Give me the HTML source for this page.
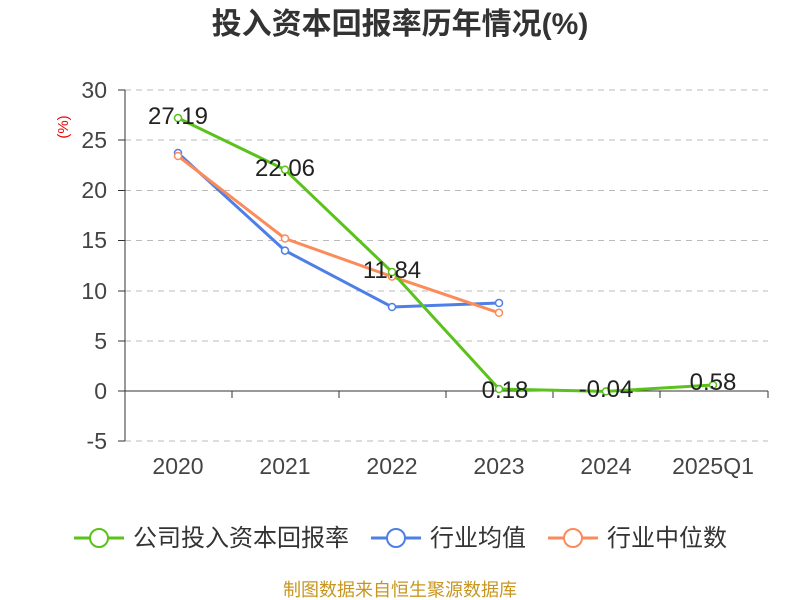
<!DOCTYPE html>
<html><head><meta charset="utf-8"><style>body{margin:0;background:#fff}svg{display:block}</style></head><body>
<svg width="800" height="600" xmlns="http://www.w3.org/2000/svg" font-family="Liberation Sans, Noto Sans CJK SC, sans-serif">
<text x="400" y="34" text-anchor="middle" font-size="30" font-weight="bold" fill="#333">投入资本回报率历年情况(%)</text>
<text x="68" y="127" font-size="15" fill="#e00" transform="rotate(-90 68 127)" text-anchor="middle">(%)</text>
<g stroke="#bbb" stroke-dasharray="6,5" stroke-width="1">
<line x1="125" x2="768" y1="90" y2="90"/><line x1="125" x2="768" y1="140" y2="140"/><line x1="125" x2="768" y1="190.5" y2="190.5"/><line x1="125" x2="768" y1="240.5" y2="240.5"/><line x1="125" x2="768" y1="291" y2="291"/><line x1="125" x2="768" y1="341" y2="341"/><line x1="125" x2="768" y1="441" y2="441"/>
</g>
<g stroke="#333" stroke-width="1">
<line x1="125" x2="125" y1="90" y2="441"/>
<line x1="118" x2="125" y1="90" y2="90"/><line x1="118" x2="125" y1="140" y2="140"/><line x1="118" x2="125" y1="190.5" y2="190.5"/><line x1="118" x2="125" y1="240.5" y2="240.5"/><line x1="118" x2="125" y1="291" y2="291"/><line x1="118" x2="125" y1="341" y2="341"/><line x1="118" x2="125" y1="391" y2="391"/><line x1="118" x2="125" y1="441" y2="441"/>
<line x1="125" x2="768" y1="391" y2="391"/>
<line x1="232" x2="232" y1="391" y2="398"/><line x1="339" x2="339" y1="391" y2="398"/><line x1="446" x2="446" y1="391" y2="398"/><line x1="553" x2="553" y1="391" y2="398"/><line x1="660" x2="660" y1="391" y2="398"/><line x1="768" x2="768" y1="391" y2="398"/>
</g>
<g font-size="23" fill="#444" text-anchor="end">
<text x="107" y="98">30</text><text x="107" y="148">25</text><text x="107" y="198">20</text><text x="107" y="248">15</text><text x="107" y="299">10</text><text x="107" y="349">5</text><text x="107" y="399">0</text><text x="107" y="449">-5</text>
</g>
<g font-size="23" fill="#444" text-anchor="middle">
<text x="178" y="474">2020</text><text x="285" y="474">2021</text><text x="392" y="474">2022</text><text x="499" y="474">2023</text><text x="606" y="474">2024</text><text x="713" y="474">2025Q1</text>
</g>
<g fill="none" stroke-width="3">
<polyline stroke="#4e7fe6" points="178,153 285,250.6 392,307 499,303"/>
<polyline stroke="#fb8b5a" points="178,156 285,238.5 392,276.6 499,312.8"/>
<polyline stroke="#5ac21a" points="178,118 285,169.7 392,272 499,389 606,391.4 713,385"/>
</g>
<g fill="#fff" stroke-width="1.5">
<g stroke="#4e7fe6"><circle cx="178" cy="153" r="3.5"/><circle cx="285" cy="250.6" r="3.5"/><circle cx="392" cy="307" r="3.5"/><circle cx="499" cy="303" r="3.5"/></g>
<g stroke="#fb8b5a"><circle cx="178" cy="156" r="3.5"/><circle cx="285" cy="238.5" r="3.5"/><circle cx="392" cy="276.6" r="3.5"/><circle cx="499" cy="312.8" r="3.5"/></g>
<g stroke="#5ac21a"><circle cx="178" cy="118" r="3.5"/><circle cx="285" cy="169.7" r="3.5"/><circle cx="392" cy="272" r="3.5"/><circle cx="499" cy="389" r="3.5"/><circle cx="606" cy="391.4" r="3.5"/><circle cx="713" cy="385" r="3.5"/></g>
</g>
<g font-size="24" fill="#222" text-anchor="middle">
<text x="178" y="124">27.19</text><text x="285" y="176">22.06</text><text x="392" y="278">11.84</text><text x="505" y="398">0.18</text><text x="606" y="397">-0.04</text><text x="713" y="390">0.58</text>
</g>
<g font-size="24" fill="#333">
<line x1="74" x2="124" y1="538" y2="538" stroke="#5ac21a" stroke-width="3"/><circle cx="99" cy="538" r="9" fill="#fff" stroke="#5ac21a" stroke-width="2"/>
<text x="133" y="546">公司投入资本回报率</text>
<line x1="371" x2="421" y1="538" y2="538" stroke="#4e7fe6" stroke-width="3"/><circle cx="396" cy="538" r="9" fill="#fff" stroke="#4e7fe6" stroke-width="2"/>
<text x="430" y="546">行业均值</text>
<line x1="548" x2="598" y1="538" y2="538" stroke="#fb8b5a" stroke-width="3"/><circle cx="573" cy="538" r="9" fill="#fff" stroke="#fb8b5a" stroke-width="2"/>
<text x="607" y="546">行业中位数</text>
</g>
<text x="400" y="596" text-anchor="middle" font-size="18" fill="#c8961e">制图数据来自恒生聚源数据库</text>
</svg>
</body></html>
